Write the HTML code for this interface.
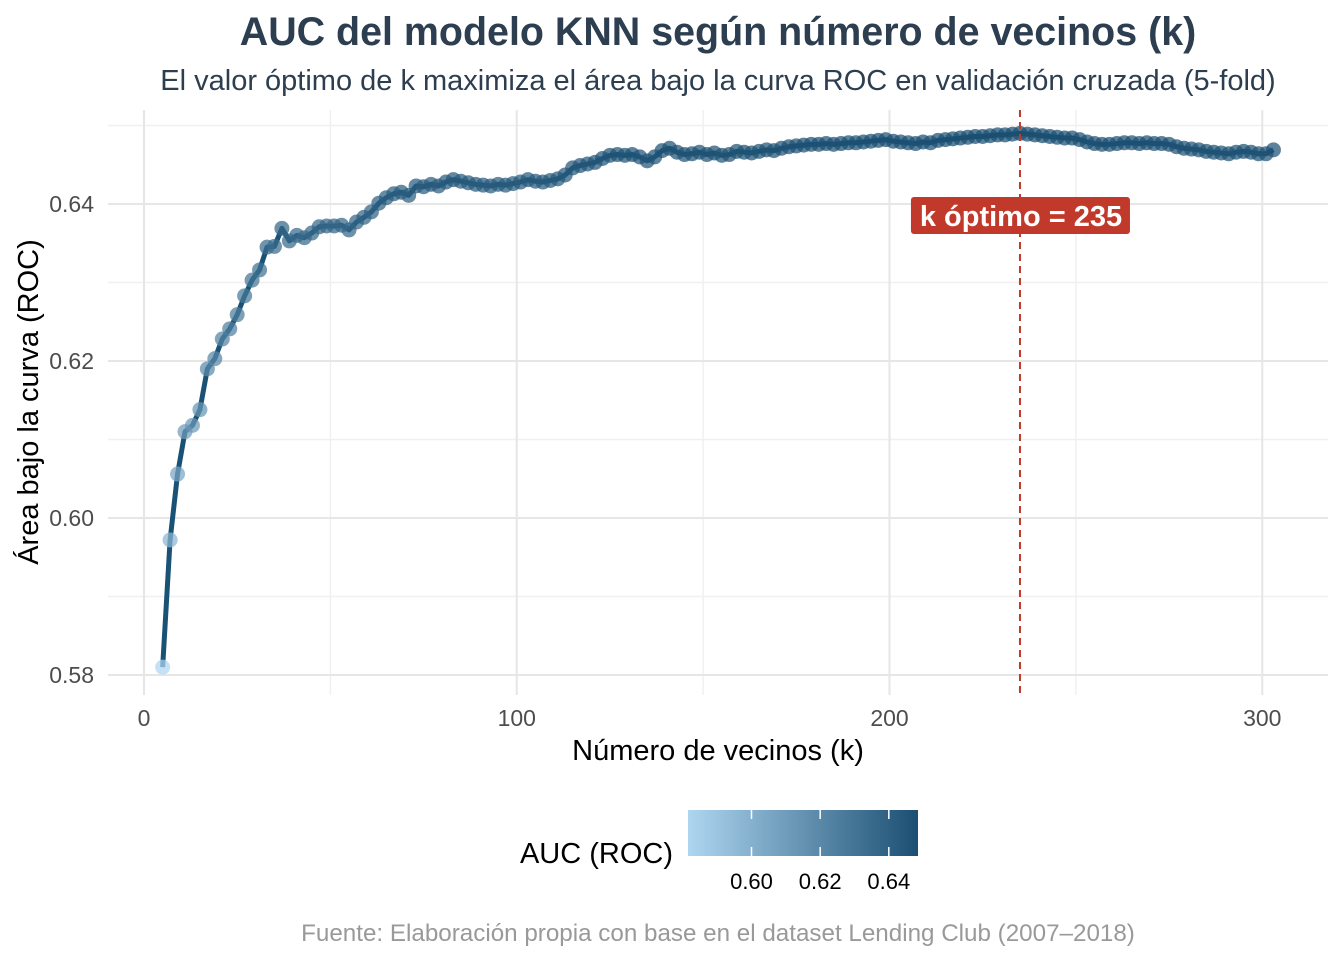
<!DOCTYPE html>
<html><head><meta charset="utf-8"><style>
body{margin:0;background:#fff;font-family:"Liberation Sans",Arial,sans-serif}
svg text{font-family:"Liberation Sans",Arial,sans-serif}
</style></head><body>
<svg id="c" width="1344" height="960" xmlns="http://www.w3.org/2000/svg">
<defs><linearGradient id="g" x1="0" x2="1" y1="0" y2="0"><stop offset="0" stop-color="#aed6f1"/><stop offset="1" stop-color="#1b4f72"/></linearGradient></defs>
<text x="718" y="45" text-anchor="middle" font-size="39.4" font-weight="bold" fill="#2c3e50">AUC del modelo KNN según número de vecinos (k)</text>
<text x="718" y="90" text-anchor="middle" font-size="29" fill="#2c3e50">El valor óptimo de k maximiza el área bajo la curva ROC en validación cruzada (5-fold)</text>
<g id="grid"></g>
<g id="marks"></g>
<g id="axes"></g>
<text x="718" y="760" text-anchor="middle" font-size="29" fill="#000">Número de vecinos (k)</text>
<text transform="translate(38,402) rotate(-90)" text-anchor="middle" font-size="29" fill="#000">Área bajo la curva (ROC)</text>
<text x="673" y="863" text-anchor="end" font-size="29" fill="#000">AUC (ROC)</text>
<rect x="688" y="810" width="230" height="46" fill="url(#g)"/>
<g id="leg"></g>
<text x="718" y="941" text-anchor="middle" font-size="24.2" fill="#999">Fuente: Elaboración propia con base en el dataset Lending Club (2007–2018)</text>
</svg>
<script>
const kStart=5, kStep=2;
const aucValues=[0.5810,0.5972,0.6056,0.6110,0.6118,0.6138,0.6190,0.6203,0.6228,0.6241,0.6259,0.6283,0.6303,0.6316,0.6345,0.6346,0.6369,0.6353,0.6360,0.6357,0.6363,0.6371,0.6372,0.6372,0.6373,0.6367,0.6377,0.6383,0.6390,0.6401,0.6408,0.6413,0.6415,0.6411,0.6423,0.6422,0.6425,
0.6423,0.6428,0.6431,0.6429,0.6427,0.6425,0.6424,0.6423,0.6425,0.6424,0.6426,0.6428,0.6431,0.6429,0.6428,0.6430,0.6432,
0.6437,0.6446,0.6449,0.6451,0.6453,0.6458,0.6462,0.6463,0.6462,0.6463,0.6460,0.6455,0.6460,0.6468,0.6471,0.6466,0.6463,0.6464,0.6466,0.6463,0.6465,0.6462,0.6463,0.6467,0.6466,0.6465,0.6467,0.6469,0.6468,0.6471,0.6473,0.6474,0.6475,0.6476,0.6476,0.6477,0.6476,0.6477,0.6478,0.6478,0.6479,0.6480,0.6481,0.6482,0.6480,0.6479,0.6478,0.6477,0.6479,0.6478,0.6481,0.6482,0.6483,0.6484,0.6485,0.6486,0.6486,0.6487,0.6488,0.6488,0.6489,0.6490,0.6489,0.6488,0.6487,0.6486,0.6485,0.6484,0.6484,0.6482,0.6479,0.6477,0.6476,0.6476,0.6477,0.6478,0.6478,0.6477,0.6478,0.6477,0.6477,0.6476,0.6473,0.6471,0.6470,0.6469,0.6467,0.6466,0.6465,0.6464,0.6466,0.6467,0.6466,0.6464,0.6464,0.6469];
const xTicks=[0,100,200,300];
const xMinor=[50,150,250];
const yTicks=[0.58,0.60,0.62,0.64];
const yMinor=[0.59,0.61,0.63,0.65];
const legendTicks=[0.60,0.62,0.64];
const optimalK=235;
const NS="http://www.w3.org/2000/svg";
const X=v=>144+(v-0)*3.7275;
const Y=v=>675-(v-0.58)*7850;
const cMin=0.5815,cMax=0.6485;
const L=v=>688+(v-cMin)/(cMax-cMin)*230;
function col(v){let t=Math.max(0,Math.min(1,(v-cMin)/(cMax-cMin)));const a=[174,214,241],b=[27,79,114];return `rgb(${a.map((c,i)=>Math.round(c+(b[i]-c)*t)).join(',')})`;}
function mk(tag,at,parent){const e=document.createElementNS(NS,tag);for(const k in at)e.setAttribute(k,at[k]);parent.appendChild(e);return e;}
const grid=document.getElementById('grid'),marks=document.getElementById('marks'),axes=document.getElementById('axes'),leg=document.getElementById('leg');
yMinor.forEach(v=>{const e=mk('line',{x1:108,x2:1328,y1:Y(v),y2:Y(v),stroke:'#f0f0f0','stroke-width':1.5},grid);

});
xMinor.forEach(v=>{const e=mk('line',{x1:X(v),x2:X(v),y1:110,y2:695,stroke:'#f0f0f0','stroke-width':1.5},grid);

});
yTicks.forEach(v=>{const e=mk('line',{x1:108,x2:1328,y1:Y(v),y2:Y(v),stroke:'#e6e6e6','stroke-width':2},grid);


const t=mk('text',{x:94,y:Y(v)+8,'text-anchor':'end','font-size':23,fill:'#4d4d4d'},axes);t.textContent=v.toFixed(2);

});
xTicks.forEach(v=>{const e=mk('line',{x1:X(v),x2:X(v),y1:110,y2:695,stroke:'#e6e6e6','stroke-width':2},grid);


const t=mk('text',{x:X(v),y:726,'text-anchor':'middle','font-size':23,fill:'#4d4d4d'},axes);t.textContent=v;

});
const pts=aucValues.map((v,i)=>[X(kStart+i*kStep),Y(v),v]);
const line=mk('polyline',{points:pts.map(p=>p[0]+','+p[1]).join(' '),fill:'none',stroke:'#1a5276','stroke-width':5,'stroke-linejoin':'round'},marks);


pts.forEach(p=>{const c=mk('circle',{cx:p[0],cy:p[1],r:7.5,fill:col(p[2]),'fill-opacity':0.72},marks);

});
const vl=mk('line',{x1:X(optimalK),x2:X(optimalK),y1:110,y2:695,stroke:'#c0392b','stroke-width':2,'stroke-dasharray':'7,5'},marks);


const bx=mk('rect',{x:X(optimalK)-109,y:197,width:219,height:37,rx:3,fill:'#c0392b'},marks);


const bt=mk('text',{x:X(optimalK)+1,y:226,'text-anchor':'middle','font-size':29,'font-weight':'bold',fill:'#fff'},marks);bt.textContent='k óptimo = '+optimalK;


legendTicks.forEach(v=>{mk('line',{x1:L(v),x2:L(v),y1:810,y2:819,stroke:'#fff','stroke-width':1.5},leg);mk('line',{x1:L(v),x2:L(v),y1:847,y2:856,stroke:'#fff','stroke-width':1.5},leg);
const t=mk('text',{x:L(v),y:889,'text-anchor':'middle','font-size':22,fill:'#000'},leg);t.textContent=v.toFixed(2);

});
</script>
</body></html>
